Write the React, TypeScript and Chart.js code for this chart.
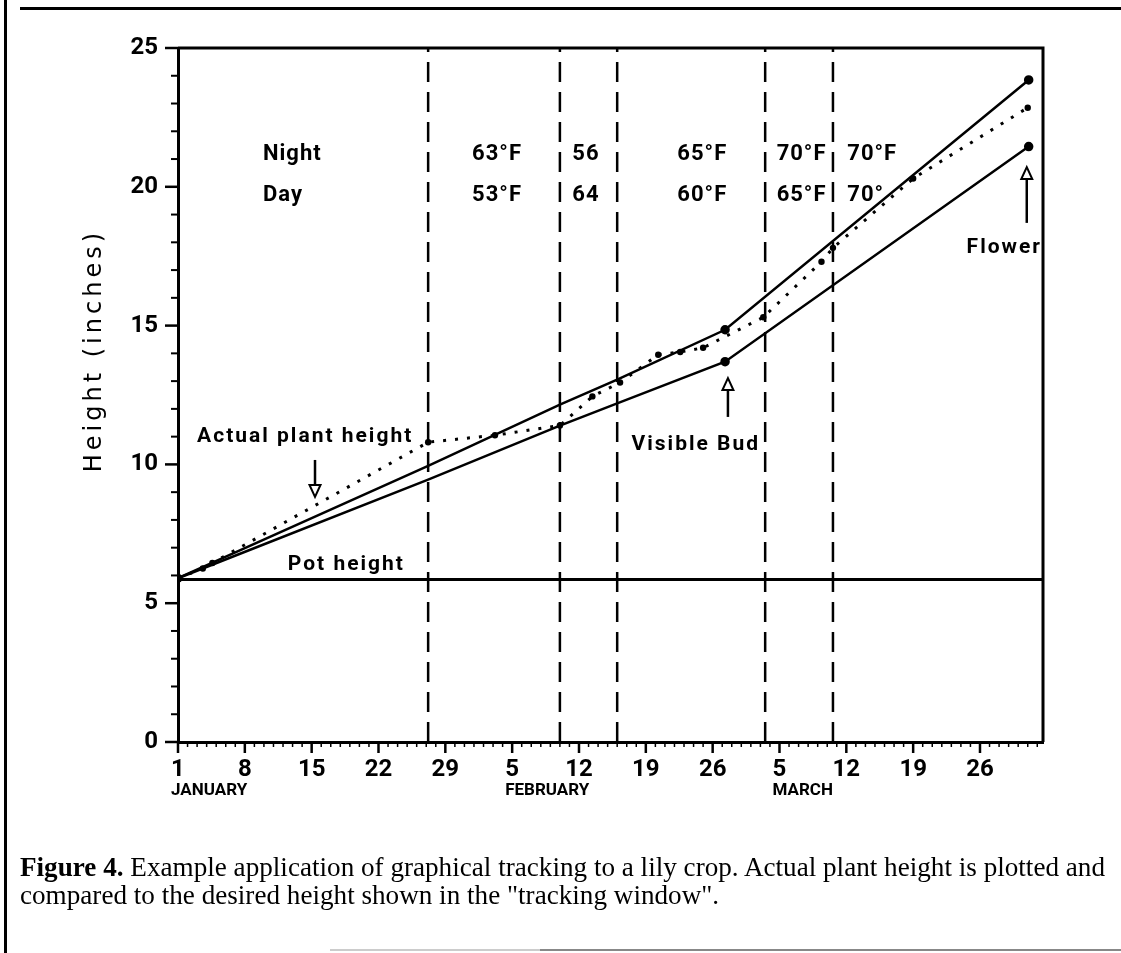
import React, { useEffect, useRef } from "react";
import { Chart, registerables } from "chart.js";
Chart.register(...registerables);

// ---------------- data ----------------
const tickDays = [0, 7, 14, 21, 28, 35, 42, 49, 56, 63, 70, 77, 84];
const tickLabels = ["1", "8", "15", "22", "29", "5", "12", "19", "26", "5", "12", "19", "26"];
const monthNames = ["JANUARY", "FEBRUARY", "MARCH"];
const monthFirstTickIndex = [0, 5, 9];
const yTickValues = [0, 5, 10, 15, 20, 25];

const potDays = [0, 90.6];
const potHeight = [5.85, 5.85];

const windowDays = [0, 26.2, 40, 46, 57.3, 89.1];
const windowUpper = [5.9, 9.95, 12.15, 13.05, 14.85, 23.85];
const windowLower = [5.9, 9.45, 11.4, 12.2, 13.7, 21.45];

const actualDays = [0, 2.6, 3.6, 26.2, 33.2, 40, 43.4, 46.3, 50.3, 52.6, 55, 61.3, 67.4, 68.6, 77, 89];
const actualHeight = [5.9, 6.25, 6.45, 10.8, 11.05, 11.4, 12.45, 12.95, 13.95, 14.05, 14.2, 15.3, 17.3, 17.8, 20.3, 22.85];

const tempChangeDays = [26.2, 40, 46, 61.5, 68.6];
const nightTemps = ["63°F", "56", "65°F", "70°F", "70°F"];
const dayTemps = ["53°F", "64", "60°F", "65°F", "70°"];

// ---------------- layout (positions in data units) ----------------
const LAYOUT = {
  dayMax: 90.6,
  tempRowLabels: ["Night", "Day"],
  tempRowLabelDay: 8.9,
  tempLabelDays: [30.8, 41.3, 52.3, 62.7, 70.1],
  nightBaseline: 20.95,
  dayBaseline: 19.5,
  notes: [
    { text: "Actual plant height", day: 2.0, val: 10.8 },
    { text: "Pot height", day: 11.5, val: 6.2 },
    { text: "Visible Bud", day: 47.5, val: 10.52 },
    { text: "Flower", day: 82.6, val: 17.6 },
  ],
  arrows: [
    { day: 14.35, tail: 10.16, tip: 8.83 },
    { day: 57.6, tail: 11.71, tip: 13.11 },
    { day: 88.9, tail: 18.7, tip: 20.71 },
  ],
  yTitle: "Height (inches)",
  yTitleCenterVal: 14.1,
};

const pts = (xs: number[], ys: number[]) => xs.map((x, i) => ({ x, y: ys[i] }));

const figurePlugin = {
  id: "figure",
  afterDraw(chart: any) {
    const { ctx, chartArea: a, scales } = chart;
    const x = scales.x;
    const y = scales.y;
    ctx.save();
    ctx.strokeStyle = "#000";
    ctx.fillStyle = "#000";
    ctx.lineCap = "butt";
    // top and right frame of plot
    ctx.lineWidth = 3;
    ctx.beginPath();
    ctx.moveTo(a.left, a.top);
    ctx.lineTo(a.right, a.top);
    ctx.lineTo(a.right, a.bottom);
    ctx.stroke();
    // x minor/major ticks
    for (let d = 0; d <= Math.floor(LAYOUT.dayMax); d++) {
      const px = x.getPixelForValue(d);
      const major = d % 7 === 0;
      ctx.lineWidth = major ? 2.5 : 1.5;
      ctx.beginPath();
      ctx.moveTo(px, a.bottom);
      ctx.lineTo(px, a.bottom + (major ? 11 : 5));
      ctx.stroke();
    }
    // y minor/major ticks
    for (let v = 0; v <= 25; v++) {
      const py = y.getPixelForValue(v);
      const major = v % 5 === 0;
      ctx.lineWidth = major ? 2.5 : 2;
      ctx.beginPath();
      ctx.moveTo(a.left, py);
      ctx.lineTo(a.left - (major ? 13 : 7), py);
      ctx.stroke();
    }
    // month labels
    ctx.font = "bold 17px Roboto";
    ctx.textAlign = "left";
    ctx.textBaseline = "alphabetic";
    monthNames.forEach((m, i) => {
      const px = x.getPixelForValue(tickDays[monthFirstTickIndex[i]]) - 7;
      ctx.fillText(m, px, a.bottom + 53);
    });
    // temperature table
    const setSpacing = (s: string) => {
      if ("letterSpacing" in ctx) (ctx as any).letterSpacing = s;
    };
    ctx.font = "bold 22px Roboto";
    setSpacing("1px");
    ctx.fillText(LAYOUT.tempRowLabels[0], x.getPixelForValue(LAYOUT.tempRowLabelDay), y.getPixelForValue(LAYOUT.nightBaseline));
    ctx.fillText(LAYOUT.tempRowLabels[1], x.getPixelForValue(LAYOUT.tempRowLabelDay), y.getPixelForValue(LAYOUT.dayBaseline));
    nightTemps.forEach((t, i) => {
      ctx.fillText(t, x.getPixelForValue(LAYOUT.tempLabelDays[i]), y.getPixelForValue(LAYOUT.nightBaseline));
    });
    dayTemps.forEach((t, i) => {
      ctx.fillText(t, x.getPixelForValue(LAYOUT.tempLabelDays[i]), y.getPixelForValue(LAYOUT.dayBaseline));
    });
    // notes
    ctx.font = "bold 21px Roboto";
    setSpacing("2px");
    LAYOUT.notes.forEach((n) => {
      ctx.fillText(n.text, x.getPixelForValue(n.day), y.getPixelForValue(n.val));
    });
    setSpacing("0px");
    // arrows
    LAYOUT.arrows.forEach((ar) => {
      const px = x.getPixelForValue(ar.day);
      const pt = y.getPixelForValue(ar.tail);
      const pp = y.getPixelForValue(ar.tip);
      const dir = pp > pt ? 1 : -1;
      const head = 12;
      const base = pp - dir * head;
      ctx.lineWidth = 2.5;
      ctx.beginPath();
      ctx.moveTo(px, pt);
      ctx.lineTo(px, base);
      ctx.stroke();
      ctx.lineWidth = 2;
      ctx.beginPath();
      ctx.moveTo(px, pp);
      ctx.lineTo(px - 5.5, base);
      ctx.lineTo(px + 5.5, base);
      ctx.closePath();
      ctx.fillStyle = "#fff";
      ctx.fill();
      ctx.stroke();
      ctx.fillStyle = "#000";
    });
    // y axis title
    ctx.save();
    ctx.translate(a.left - 83, y.getPixelForValue(LAYOUT.yTitleCenterVal));
    ctx.rotate(-Math.PI / 2);
    ctx.font = "24px 'DejaVu Sans'";
    setSpacing("4px");
    ctx.textAlign = "center";
    ctx.textBaseline = "middle";
    ctx.fillText(LAYOUT.yTitle, 0, 0);
    ctx.restore();
    ctx.restore();
  },
};

export default function App() {
  const canvasRef = useRef<HTMLCanvasElement>(null);
  const l1 = useRef<HTMLSpanElement>(null);
  const l2 = useRef<HTMLSpanElement>(null);

  useEffect(() => {
    const canvas = canvasRef.current;
    if (!canvas) return;
    const datasets: any[] = [];
    tempChangeDays.forEach((d) => {
      datasets.push({
        data: [{ x: d, y: 0 }, { x: d, y: 25 }],
        borderColor: "#000",
        borderWidth: 2.5,
        borderDash: [20, 10],
        pointRadius: 0,
        showLine: true,
      });
    });
    datasets.push({
      data: pts(potDays, potHeight),
      borderColor: "#000",
      borderWidth: 3,
      pointRadius: 0,
      showLine: true,
    });
    const markIdx = [4, 5];
    datasets.push({
      data: pts(windowDays, windowUpper),
      borderColor: "#000",
      backgroundColor: "#000",
      borderWidth: 2.5,
      pointRadius: (c: any) => (markIdx.includes(c.dataIndex) ? 3.5 : 0),
      showLine: true,
    });
    datasets.push({
      data: pts(windowDays, windowLower),
      borderColor: "#000",
      backgroundColor: "#000",
      borderWidth: 2.5,
      pointRadius: (c: any) => (markIdx.includes(c.dataIndex) ? 3.5 : 0),
      showLine: true,
    });
    datasets.push({
      data: pts(actualDays, actualHeight),
      borderColor: "#000",
      backgroundColor: "#000",
      borderWidth: 3,
      borderDash: [3, 9],
      pointRadius: (c: any) => (c.dataIndex === 0 ? 4.5 : 3.2),
      pointBorderWidth: 0,
      showLine: true,
    });

    const tickFont = { family: "Roboto", size: 24, weight: "bold" as const };
    const chart = new Chart(canvas, {
      type: "scatter",
      data: { datasets },
      options: {
        animation: false,
        responsive: false,
        devicePixelRatio: 1,
        layout: { padding: { left: 0, top: 48, right: 78, bottom: 151 } },
        plugins: { legend: { display: false }, tooltip: { enabled: false } },
        scales: {
          x: {
            type: "linear",
            min: 0,
            max: LAYOUT.dayMax,
            grid: { display: false, drawTicks: false },
            border: { display: true, color: "#000", width: 3 },
            afterBuildTicks: (s: any) => {
              s.ticks = tickDays.map((v) => ({ value: v }));
            },
            afterFit: (s: any) => {
              s.height = 60;
            },
            ticks: {
              autoSkip: false,
              maxRotation: 0,
              padding: 14,
              color: "#000",
              font: tickFont,
              callback: (v: any) => {
                const i = tickDays.indexOf(Number(v));
                return i >= 0 ? tickLabels[i] : "";
              },
            },
          },
          y: {
            type: "linear",
            min: 0,
            max: 25,
            grid: { display: false, drawTicks: false },
            border: { display: true, color: "#000", width: 3 },
            afterBuildTicks: (s: any) => {
              s.ticks = yTickValues.map((v) => ({ value: v }));
            },
            afterFit: (s: any) => {
              s.width = 178;
            },
            ticks: { padding: 20, color: "#000", font: tickFont },
          },
        },
      },
      plugins: [figurePlugin],
    });

    const s1 = l1.current;
    const s2 = l2.current;
    if (s1 && s2) {
      const w = s1.getBoundingClientRect().width;
      const sc = 1085 / w;
      s1.style.transform = `scaleX(${sc})`;
      s2.style.transform = `scaleX(${sc})`;
    }
    return () => chart.destroy();
  }, []);

  const lineStyle: React.CSSProperties = {
    display: "inline-block",
    whiteSpace: "nowrap",
    transformOrigin: "0 0",
  };

  return (
    <div style={{ position: "fixed", left: 0, top: 0, width: 1121, height: 953, background: "#fff", overflow: "hidden" }}>
      <canvas ref={canvasRef} width={1121} height={953} style={{ position: "absolute", left: 0, top: 0, width: 1121, height: 953, display: "block" }} />
      <div style={{ position: "absolute", left: 20, top: 7, width: 1101, height: 3, background: "#000" }} />
      <div style={{ position: "absolute", left: 4, top: 0, width: 3, height: 953, background: "#000" }} />
      <div style={{ position: "absolute", left: 330, top: 949, width: 210, height: 2, background: "#ccc" }} />
      <div style={{ position: "absolute", left: 540, top: 949, width: 581, height: 2, background: "#888" }} />
      <div
        style={{
          position: "absolute",
          left: 20,
          top: 853,
          fontFamily: "'Liberation Serif', serif",
          fontSize: 27,
          lineHeight: "28px",
          color: "#000",
        }}
      >
        <div>
          <span ref={l1} style={lineStyle}>
            <b>Figure 4.</b> Example application of graphical tracking to a lily crop.  Actual plant height is plotted and
          </span>
        </div>
        <div>
          <span ref={l2} style={lineStyle}>
            compared to the desired height shown in the "tracking window".
          </span>
        </div>
      </div>
    </div>
  );
}
